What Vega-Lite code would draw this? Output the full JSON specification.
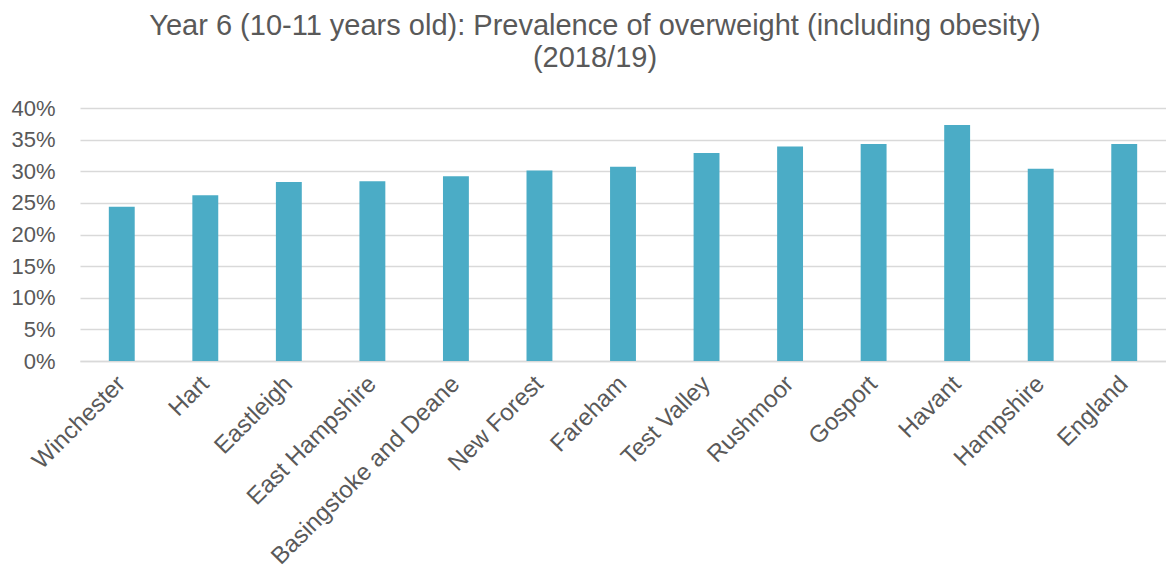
{
  "$schema": "https://vega.github.io/schema/vega-lite/v6.json",
  "autosize": "none",
  "width": 1086,
  "height": 253,
  "padding": {"left": 80, "top": 108, "right": 0, "bottom": 209},
  "background": "white",
  "title": {
    "text": ["Year 6 (10-11 years old): Prevalence of overweight (including obesity)", "(2018/19)"],
    "font": "Liberation Sans",
    "fontSize": 29,
    "fontWeight": "normal",
    "color": "#595959",
    "anchor": "middle",
    "frame": "group",
    "dx": -28,
    "lineHeight": 32,
    "offset": 24
  },
  "data": {
    "values": [
      {"area": "Winchester", "value": 0.244},
      {"area": "Hart", "value": 0.262},
      {"area": "Eastleigh", "value": 0.283},
      {"area": "East Hampshire", "value": 0.284},
      {"area": "Basingstoke and Deane", "value": 0.292},
      {"area": "New Forest", "value": 0.301},
      {"area": "Fareham", "value": 0.307},
      {"area": "Test Valley", "value": 0.329},
      {"area": "Rushmoor", "value": 0.339},
      {"area": "Gosport", "value": 0.343},
      {"area": "Havant", "value": 0.373},
      {"area": "Hampshire", "value": 0.304},
      {"area": "England", "value": 0.343}
    ]
  },
  "mark": {"type": "bar", "color": "#4BACC6"},
  "encoding": {
    "x": {
      "field": "area",
      "type": "nominal",
      "sort": null,
      "scale": {"paddingInner": 0.69, "paddingOuter": 0.345},
      "axis": {
        "title": null,
        "labelAngle": -45,
        "labelAlign": "right",
        "labelBaseline": "middle",
        "labelFont": "Liberation Sans",
        "labelFontSize": 24,
        "labelColor": "#595959",
        "labelPadding": 19,
        "labelLimit": 400,
        "ticks": false,
        "domainColor": "#d9d9d9",
        "domainWidth": 1.5
      }
    },
    "y": {
      "field": "value",
      "type": "quantitative",
      "scale": {"domain": [0, 0.4], "nice": false},
      "axis": {
        "title": null,
        "format": ".0%",
        "values": [0, 0.05, 0.1, 0.15, 0.2, 0.25, 0.3, 0.35, 0.4],
        "labelFont": "Liberation Sans",
        "labelFontSize": 22,
        "labelColor": "#595959",
        "labelPadding": 25,
        "ticks": false,
        "domain": false,
        "gridColor": "#d9d9d9",
        "gridWidth": 1.5
      }
    }
  },
  "config": {"view": {"stroke": null}}
}
